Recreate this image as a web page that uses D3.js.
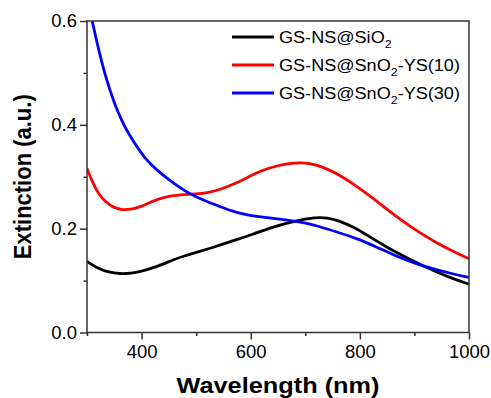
<!DOCTYPE html>
<html>
<head>
<meta charset="utf-8">
<script src="https://cdn.jsdelivr.net/npm/d3@7"></script>
<style>
  body { margin: 0; background: #fff; }
  text { font-family: "Liberation Sans", Arial, sans-serif; fill: #000; }
</style>
</head>
<body>
<div id="chart"></div>
<script>
const width = 491;
const height = 398;

// spectra, [wavelength nm, extinction]
const sio2 = [
  [300, 0.137], [320, 0.123], [340, 0.116], [360, 0.113], [380, 0.114],
  [400, 0.118], [420, 0.124], [440, 0.132], [460, 0.141], [480, 0.148],
  [500, 0.154], [540, 0.167], [580, 0.181], [600, 0.188], [640, 0.203],
  [680, 0.215], [720, 0.222], [740, 0.221], [760, 0.216], [790, 0.203],
  [820, 0.183], [850, 0.164], [880, 0.147], [910, 0.131], [940, 0.117],
  [970, 0.104], [1000, 0.093]
];
const ys10 = [
  [300, 0.316], [310, 0.290], [320, 0.268], [335, 0.250], [350, 0.240],
  [365, 0.236], [380, 0.237], [395, 0.241], [410, 0.248], [430, 0.257],
  [450, 0.263], [470, 0.265], [500, 0.267], [520, 0.269], [540, 0.274],
  [560, 0.282], [580, 0.291], [600, 0.302], [620, 0.312], [650, 0.322],
  [680, 0.327], [700, 0.327], [720, 0.323], [740, 0.315], [760, 0.305],
  [790, 0.285], [820, 0.262], [850, 0.237], [880, 0.213], [910, 0.192],
  [940, 0.173], [970, 0.157], [1000, 0.142]
];
const ys30 = [
  [300, 0.645], [310, 0.598], [320, 0.550], [333, 0.496], [350, 0.441],
  [365, 0.405], [375, 0.385], [395, 0.352], [410, 0.331], [430, 0.311],
  [455, 0.290], [480, 0.272], [500, 0.261], [520, 0.252], [545, 0.242],
  [565, 0.234], [590, 0.227], [615, 0.223], [640, 0.220], [670, 0.216],
  [700, 0.211], [720, 0.206], [760, 0.193], [795, 0.181], [830, 0.165],
  [865, 0.148], [900, 0.133], [940, 0.121], [970, 0.113], [1000, 0.106]
];

const series = [
  { name: "GS-NS@SiO", sub: "2", tail: "", color: "#000000", data: sio2 },
  { name: "GS-NS@SnO", sub: "2", tail: "-YS(10)", color: "#ff0000", data: ys10 },
  { name: "GS-NS@SnO", sub: "2", tail: "-YS(30)", color: "#0000ff", data: ys30 }
];

const xMajor = [400, 600, 800, 1000];
const xMinor = [300, 500, 700, 900];
const yMajor = [0, 0.2, 0.4, 0.6];
const yMinor = [0.1, 0.3, 0.5];

const m = { top: 21, right: 22, bottom: 65.5, left: 87 };
const iw = width - m.left - m.right;
const ih = height - m.top - m.bottom;

const x = d3.scaleLinear().domain([300, 1000]).range([0, iw]);
const y = d3.scaleLinear().domain([0, 0.6]).range([ih, 0]);

const svg = d3.select("#chart").append("svg")
  .attr("width", width).attr("height", height);

svg.append("defs").append("clipPath").attr("id", "clip")
  .append("rect").attr("width", iw).attr("height", ih);

const g = svg.append("g").attr("transform", `translate(${m.left},${m.top})`);

const line = d3.line()
  .x(d => x(d[0])).y(d => y(d[1]))
  .curve(d3.curveBasis);

g.append("g").attr("clip-path", "url(#clip)")
  .selectAll("path").data(series).join("path")
  .attr("d", d => line(d.data))
  .attr("fill", "none")
  .attr("stroke", d => d.color)
  .attr("stroke-width", 2.8);

// frame
g.append("rect").attr("width", iw).attr("height", ih)
  .attr("fill", "none").attr("stroke", "#333").attr("stroke-width", 1.5);

// x axis
g.append("g").attr("transform", `translate(0,${ih})`)
  .call(d3.axisBottom(x).tickValues(xMajor).tickSize(7).tickPadding(5).tickFormat(d3.format("d")));
g.append("g").attr("transform", `translate(0,${ih})`)
  .call(d3.axisBottom(x).tickValues(xMinor).tickSize(3.5).tickFormat(""));

// y axis
g.append("g")
  .call(d3.axisLeft(y).tickValues(yMajor).tickSize(7).tickPadding(3).tickFormat(d3.format(".1f")));
g.append("g")
  .call(d3.axisLeft(y).tickValues(yMinor).tickSize(3.5).tickFormat(""));

g.selectAll(".domain").remove();
g.selectAll(".tick line").attr("stroke", "#333").attr("stroke-width", 1.5);
g.selectAll(".tick text").attr("font-size", 18.5).attr("fill", "#000")
  .style("font-family", '"Liberation Sans", Arial, sans-serif');

// axis titles
svg.append("text")
  .attr("x", m.left + iw / 2).attr("y", 392.5)
  .attr("text-anchor", "middle")
  .attr("font-size", 22.5).attr("font-weight", "bold")
  .attr("textLength", 203).attr("lengthAdjust", "spacingAndGlyphs")
  .text("Wavelength (nm)");

svg.append("text")
  .attr("transform", `translate(31,${m.top + ih / 2}) rotate(-90) scale(1,1.06)`)
  .attr("text-anchor", "middle")
  .attr("font-size", 22).attr("font-weight", "bold")
  .text("Extinction (a.u.)");

// legend
const leg = svg.append("g").attr("transform", "translate(232,37)");
const rows = leg.selectAll("g").data(series).join("g")
  .attr("transform", (d, i) => `translate(0,${i * 28})`);
rows.append("line").attr("x1", 0).attr("x2", 42)
  .attr("stroke", d => d.color).attr("stroke-width", 2.8);
const lt = rows.append("text").attr("transform", "translate(47,6) scale(1.13,1)")
  .attr("font-size", 16);
lt.append("tspan").text(d => d.name);
lt.append("tspan").attr("font-size", 11).attr("dy", 5).text(d => d.sub);
lt.append("tspan").attr("dy", -5).text(d => d.tail);
</script>
</body>
</html>
